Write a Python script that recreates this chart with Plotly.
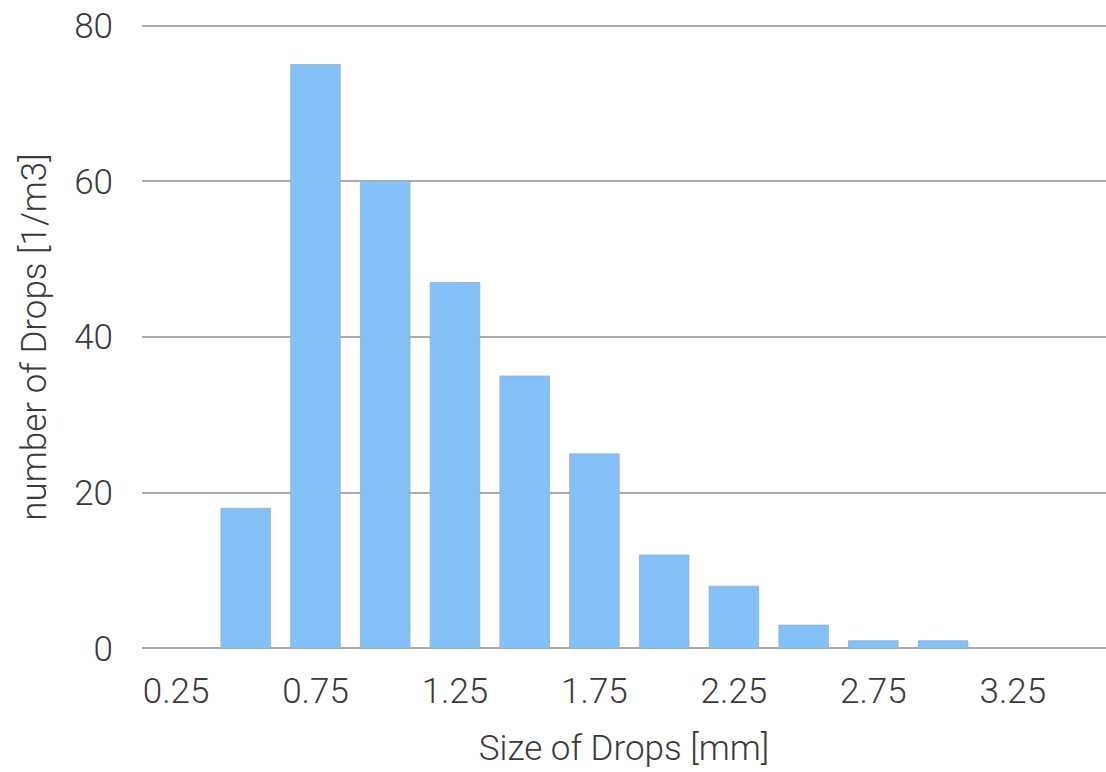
import plotly.graph_objects as go

sizes = [0.25, 0.5, 0.75, 1.0, 1.25, 1.5, 1.75, 2.0, 2.25, 2.5, 2.75, 3.0, 3.25]
counts = [0, 18, 75, 60, 47, 35, 25, 12, 8, 3, 1, 1, 0]
tick_vals = [0.25, 0.75, 1.25, 1.75, 2.25, 2.75, 3.25]
y_ticks = [0, 20, 40, 60, 80]

font_family = "Roboto"
text_color = "#3a3a3a"
fs = 35

fig = go.Figure()
fig.add_trace(go.Bar(
    x=sizes, y=counts, width=0.178,
    marker=dict(color="#85c1f9", line=dict(color="rgba(150,170,190,0.7)", width=1)),
))

fig.update_layout(
    width=1106, height=772,
    margin=dict(l=142, r=0, t=24.4, b=122.4),
    paper_bgcolor="white", plot_bgcolor="white",
    showlegend=False,
    font=dict(family=font_family, size=fs, color=text_color, weight=300),
)
fig.update_xaxes(
    range=[0.128, 3.584],
    tickvals=tick_vals, tickformat=".2f",
    showgrid=False, zeroline=False, showline=False,
    ticklabelstandoff=17,
    title=dict(text="Size of Drops [mm]", standoff=24, font=dict(size=fs, weight=300)),
    tickfont=dict(size=fs, weight=300),
)
fig.update_yaxes(
    range=[-0.2, 80.2], tickvals=y_ticks,
    showgrid=True, gridcolor="#aaaaaa", gridwidth=2,
    zeroline=False, showline=False,
    ticklabelstandoff=28,
    title=dict(text="number of Drops [1/m3]", standoff=16, font=dict(size=fs, weight=300)),
    tickfont=dict(size=fs, weight=300),
)

fig.write_html("out.html")
